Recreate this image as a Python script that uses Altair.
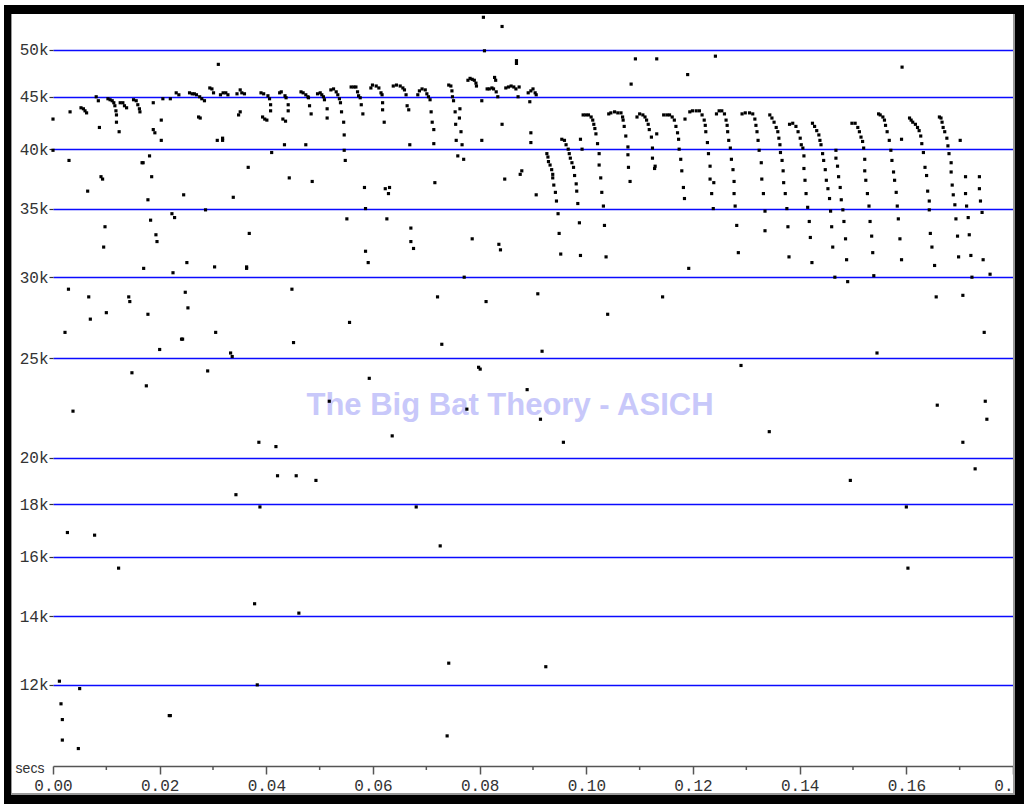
import altair as alt
import pandas as pd

# ---------------- data: (time in ms, frequency in kHz) ----------------
early_pulses = [
    (0, 42.8), (3.2, 43.5),
    (5.25, 43.9), (5.7, 43.8), (6.0, 43.6), (6.3, 43.4),
    (8.1, 45.0), (8.5, 44.6),
    (10.3, 44.8), (10.7, 44.7), (11.1, 44.6), (11.4, 44.4), (11.6, 44.1), (11.8, 43.6), (11.9, 43.2), (11.9, 42.5),
    (12.6, 44.4), (13.1, 44.4), (13.4, 44.1), (13.8, 43.9),
    (15.1, 44.7), (15.6, 44.6), (15.9, 44.2), (16.2, 43.8), (16.3, 43.5),
    (18.8, 44.4), (20.6, 44.8), (22.0, 44.8), (23.1, 45.4), (23.6, 45.2),
    (25.6, 45.4), (26.1, 45.3), (26.5, 45.3), (26.9, 45.2), (27.5, 45.0), (27.9, 44.8), (28.4, 44.6),
    (29.4, 45.9), (29.8, 45.8), (30.1, 45.4),
    (31.4, 45.2), (31.9, 45.4), (32.4, 45.4), (32.8, 45.2),
    (34.5, 45.3), (35.1, 45.7), (35.4, 45.4), (35.9, 45.3),
    (39.0, 45.4), (39.5, 45.3), (40.3, 45.1), (40.6, 44.8), (40.8, 44.2), (40.8, 43.6),
    (42.5, 45.4), (42.8, 45.5), (43.5, 45.1), (43.7, 44.9), (44.1, 44.2), (44.1, 43.6),
    (46.5, 45.5), (46.9, 45.4), (47.4, 45.2), (47.8, 45.0), (47.9, 44.9), (48.1, 44.1), (48.4, 43.3),
    (49.6, 45.3), (50.1, 45.4), (50.4, 45.2), (50.7, 45.0), (50.9, 44.7), (51.4, 43.8), (51.4, 42.9),
    (52.1, 45.7), (52.6, 45.8), (53.1, 45.5), (53.4, 45.2), (53.7, 44.8), (53.9, 44.4), (54.1, 43.5),
    (54.5, 42.5), (54.6, 41.3), (54.6, 39.9), (54.8, 39.0),
    (55.9, 46.0), (56.4, 46.0), (56.8, 46.0), (57.1, 45.5), (57.3, 45.1), (57.6, 44.9), (57.8, 44.2), (58.1, 43.3),
    (59.6, 45.9),
]

early_scatter = [
    (27.3, 43.0), (27.6, 42.9), (30.8, 40.8), (31.8, 41.0), (31.8, 40.8), (34.8, 43.2), (35.1, 43.5),
    (39.3, 43.0), (39.7, 42.8), (40.1, 42.7), (41.0, 39.7), (43.1, 42.8), (43.6, 42.6),
    (43.4, 40.4), (44.3, 37.5), (47.4, 40.4), (48.6, 37.2), (8.7, 42.0), (12.4, 41.6),
    (20.3, 42.7), (18.8, 41.8), (19.1, 41.5), (20.3, 40.8), (31.0, 48.4),
    (0, 39.9), (3.0, 39.0), (6.5, 36.4), (9.0, 37.6), (9.3, 37.4), (9.75, 33.6), (9.5, 32.1),
    (16.7, 38.8), (16.9, 38.8), (18.1, 39.4), (18.5, 37.6), (17.8, 35.7), (18.3, 34.1), (19.3, 33.0),
    (19.5, 32.5), (17.0, 30.6), (22.3, 34.6), (22.8, 34.3), (22.5, 30.3), (24.5, 36.1), (25.1, 31.0),
    (28.6, 34.9), (30.3, 30.7), (33.8, 35.9), (36.6, 38.4), (36.8, 33.1), (36.3, 30.7), (36.3, 30.6),
    (44.8, 29.2), (2.9, 29.2), (58.4, 36.7), (58.6, 35.0), (55.1, 34.2), (58.6, 31.8), (59.1, 31.0),
]

mid_pulses = [
    (59.9, 46.2), (60.6, 46.1), (61.1, 45.9), (61.5, 45.4), (61.7, 45.2), (61.8, 44.4), (61.8, 43.7), (62.1, 42.5),
    (63.8, 46.1), (64.4, 46.2), (65.1, 46.1), (65.6, 45.9), (65.9, 45.7), (66.2, 45.2), (66.4, 44.1), (66.7, 43.7), (66.9, 40.4),
    (68.4, 45.2), (68.7, 45.6), (69.2, 45.8), (69.8, 45.7), (70.1, 45.3), (70.4, 45.0), (70.7, 44.7),
    (70.9, 43.5), (71.1, 42.5), (71.4, 41.8), (71.4, 40.5), (71.6, 37.1),
    (74.2, 46.2), (74.6, 46.1), (74.8, 45.6), (74.9, 45.0), (75.1, 44.6), (75.4, 43.5), (75.5, 42.3), (75.6, 40.8),
    (76.3, 43.8), (76.2, 42.9), (76.5, 41.6), (76.7, 40.4), (75.9, 39.4), (77.0, 39.1),
    (77.8, 46.7), (78.2, 46.9), (78.6, 46.8), (79.0, 46.7), (79.3, 46.4), (79.4, 46.1),
    (80.4, 44.6), (80.4, 40.8),
    (82.8, 47.0), (83.0, 46.7), (81.4, 45.8), (81.8, 45.8), (82.3, 45.9), (82.6, 45.8), (83.1, 45.5), (83.4, 45.0),
    (84.2, 42.3),
    (84.9, 45.9), (85.4, 46.0), (85.9, 46.1), (86.4, 46.0), (86.8, 45.8), (87.4, 46.0), (87.2, 45.0),
    (89.1, 45.4), (89.6, 45.6), (90.0, 45.8), (90.4, 45.4), (90.6, 45.2), (89.4, 44.5), (89.6, 41.5), (89.6, 40.6), (90.6, 36.1),
]

mid_scatter = [
    (80.7, 53.8), (84.2, 52.7), (80.9, 49.9), (86.9, 48.8), (86.9, 48.5),
    (84.7, 37.4), (87.6, 37.8), (87.9, 38.1),
    (62.3, 36.6), (63.1, 36.7), (62.9, 36.2), (62.6, 34.2),
    (67.1, 33.5), (67.1, 32.5), (67.6, 32.0), (78.6, 32.7), (83.6, 32.3), (83.9, 31.9), (77.1, 30.0),
]

late_t = [
    92.6, 92.8, 92.9, 93.2, 93.5, 93.7, 93.7, 93.9, 94.2, 94.4, 94.7, 94.9, 95.2,
    95.4, 95.9, 96.2, 96.6, 96.8, 97.0, 97.3, 97.6, 97.8, 98.1, 98.2, 98.4, 98.7, 98.9, 98.9, 99.2,
    99.4, 99.9, 100.4, 100.9, 101.2, 101.4, 101.6, 101.8, 102.1, 102.4, 102.4, 102.7, 102.9, 103.2, 103.4, 103.7,
    104.2, 104.6, 105.3, 105.9, 106.5, 106.8, 106.9, 107.1, 107.4, 107.8, 107.8, 107.9, 108.2,
    109.5, 110.0, 110.6, 111.0, 111.3, 111.6, 111.8, 112.2, 112.4, 112.4, 112.8, 112.9, 113.2,
    114.5, 115.1, 115.6, 116.1, 116.5, 116.8, 117.1, 117.3, 117.4, 117.7, 117.9, 118.2, 118.4, 118.5, 119.4,
    119.9, 120.6, 121.2, 121.7, 122.1, 122.3, 122.4, 122.7, 122.9, 123.2, 123.2, 123.9, 123.5, 123.8,
    124.4, 124.9, 125.4, 125.9, 126.2, 126.4, 126.5, 126.7, 127.0, 127.2, 127.5, 127.7, 127.7, 127.9, 128.2, 128.5,
    129.2, 129.8, 130.6, 131.2, 131.6, 131.8, 132.0, 132.2, 132.4, 132.8, 132.9, 133.2, 133.5, 133.5,
    134.4, 134.8, 135.2, 135.6, 135.9, 136.1, 136.3, 136.4, 136.7, 136.9, 137.0, 137.3, 137.6, 137.8, 138.0,
    138.1, 138.7, 139.3, 139.7, 140.1, 140.3, 140.6, 140.8, 140.8, 141.0, 141.2, 141.5, 141.8, 142.0, 142.3,
    142.4, 142.8, 143.2, 143.6, 143.8, 144.0, 144.3, 144.5, 144.8, 145.0, 145.3, 145.6, 145.8, 146.0, 146.2, 146.6,
    146.8, 146.8, 147.1, 147.3, 147.6, 147.8, 148.1, 148.3, 148.6, 148.8, 149.0,
    149.8, 150.4, 150.9, 151.2, 151.5, 151.8, 152.0, 152.2, 152.2, 152.4, 152.7, 153.0, 153.2, 153.5, 153.7, 153.9,
    154.8, 155.1, 155.6, 155.9, 156.1, 156.4, 156.8, 157.1, 157.3, 157.6, 157.8, 158.1, 158.3, 158.5, 158.8, 159.1, 159.1,
    160.6, 160.9, 161.2, 161.7, 162.1, 162.4, 162.7, 162.9, 163.2, 163.5, 163.8, 164.0, 164.3, 164.3, 164.5, 164.8, 165.3,
    166.2, 166.5, 166.7, 166.9, 167.2, 167.6, 167.8, 168.0, 168.4, 168.4, 168.6, 168.8, 169.1, 169.3, 169.6, 169.8, 170.1,
    171.1, 171.1, 171.3, 171.6, 171.8, 172.1, 172.3,
    173.7, 173.7, 173.9, 174.2, 174.4, 175.7,
]
late_f = [
    39.6, 39.3, 38.9, 38.6, 38.2, 37.8, 37.5, 36.9, 36.3, 35.6, 34.6, 33.1, 31.6,
    40.9, 40.8, 40.4, 40.0, 39.6, 39.2, 38.8, 38.4, 37.7, 37.0, 36.4, 35.4, 33.9, 31.5, 40.9, 40.0,
    43.2, 43.2, 43.2, 43.0, 42.7, 42.3, 41.9, 41.4, 40.5, 39.6, 38.6, 37.5, 36.3, 35.2, 33.7, 31.4,
    43.3, 43.4, 43.5, 43.4, 43.4, 43.0, 42.7, 42.1, 41.2, 40.2, 39.5, 38.4, 37.2,
    43.0, 43.3, 43.2, 43.0, 42.7, 42.3, 41.8, 41.1, 40.1, 39.2, 38.3, 38.5, 41.4,
    43.2, 43.2, 43.2, 43.0, 42.7, 42.1, 41.5, 40.9, 40.0, 39.1, 38.1, 36.7, 35.8, 42.8, 43.5,
    43.6, 43.6, 43.6, 43.2, 42.7, 42.2, 41.6, 40.6, 39.6, 38.5, 37.4, 37.1, 36.2, 35.0,
    43.3, 43.6, 43.6, 43.3, 42.7, 42.2, 41.6, 40.8, 40.1, 39.1, 38.2, 37.2, 36.2, 35.2, 33.7, 31.7,
    43.3, 43.4, 43.4, 43.3, 42.8, 42.2, 41.6, 40.8, 39.9, 38.8, 37.4, 36.2, 34.8, 33.3,
    43.2, 42.9, 42.5, 42.0, 41.6, 41.0, 40.4, 39.7, 39.0, 38.1, 37.1, 36.2, 35.0, 33.6, 31.4,
    42.3, 42.4, 42.1, 41.6, 41.0, 40.4, 40.1, 39.4, 38.3, 37.3, 36.2, 35.1, 34.0, 32.8, 31.0,
    42.4, 42.1, 41.7, 41.3, 40.8, 40.4, 39.6, 39.0, 38.2, 37.3, 36.6, 35.8, 34.8, 33.6, 32.1, 30.0,
    39.9, 39.2, 38.5, 37.6, 36.7, 35.7, 34.9, 34.0, 32.7, 31.2, 29.7,
    42.4, 42.4, 42.0, 41.6, 41.1, 40.7, 40.1, 39.1, 38.1, 37.3, 36.2, 35.2, 34.0, 32.9, 31.7, 30.1,
    43.3, 43.2, 43.0, 42.7, 42.2, 41.6, 40.8, 39.9, 39.0, 38.0, 37.3, 36.3, 35.2, 34.2, 32.7, 31.2, 40.9,
    42.9, 42.7, 42.5, 42.3, 42.0, 41.7, 41.2, 40.5, 39.7, 38.4, 37.7, 36.4, 35.6, 34.9, 33.1, 32.1, 30.8,
    43.0, 42.9, 42.5, 42.0, 41.6, 41.0, 40.3, 39.6, 38.8, 38.0, 36.9, 36.1, 35.3, 34.2, 32.9, 31.4, 40.8,
    37.6, 36.2, 35.2, 34.3, 33.0, 31.5, 30.0,
    37.6, 36.6, 35.6, 34.7, 31.2, 30.2,
]

late_scatter = [
    (119.0, 47.3), (109.2, 49.0), (113.2, 49.0), (108.4, 46.3), (119.2, 30.6), (124.2, 49.3), (159.2, 48.1),
]

low_scatter = [
    (6.7, 28.7), (14.2, 28.7), (14.4, 28.4), (24.8, 29.0), (7.0, 27.3), (10.0, 27.7), (17.8, 27.6), (25.3, 28.0),
    (2.25, 26.5), (24.1, 26.1), (24.3, 26.1), (30.5, 26.5), (20.0, 25.5), (33.3, 25.3), (33.6, 25.1), (45.1, 25.9),
    (55.6, 27.1), (14.8, 24.2), (29.0, 24.3), (17.5, 23.5), (59.3, 23.9), (3.75, 22.2), (51.8, 22.7),
    (38.6, 20.7), (41.8, 20.5), (42.1, 19.2), (45.6, 19.2), (49.3, 19.0), (34.3, 18.4), (38.8, 17.9),
    (2.7, 16.9), (7.8, 16.8), (12.3, 15.6), (37.8, 14.4), (46.1, 14.1), (1.2, 12.1), (5.0, 11.9), (38.3, 12.0),
    (1.5, 11.5), (21.8, 11.2), (22.0, 11.2), (1.75, 11.1), (1.75, 10.6), (4.75, 10.4),
    (72.1, 28.7), (81.2, 28.4), (90.9, 28.9), (114.3, 28.7), (104.0, 27.6), (72.9, 25.8), (91.7, 25.4),
    (79.8, 24.5), (80.1, 24.4), (88.9, 23.3), (77.6, 22.3), (91.4, 21.8), (63.6, 21.0), (95.7, 20.7),
    (68.1, 17.9), (72.6, 16.4), (74.2, 12.6), (92.4, 12.5), (73.9, 10.7),
    (165.6, 28.7), (170.6, 28.8), (174.6, 26.5), (154.5, 25.3), (129.0, 24.6), (174.8, 22.7), (175.1, 21.8),
    (165.8, 22.5), (134.3, 21.2), (170.6, 20.7), (172.9, 19.5), (149.5, 19.0), (160.0, 17.9), (160.3, 15.6),
]

x_major_ticks = [0.00, 0.02, 0.04, 0.06, 0.08, 0.10, 0.12, 0.14, 0.16, 0.18]
x_minor_ticks = [0.01, 0.03, 0.05, 0.07, 0.09, 0.11, 0.13, 0.15, 0.17]
y_grid_khz = [12, 14, 16, 18, 20, 25, 30, 35, 40, 45, 50]
watermark_text = "The Big Bat Theory - ASICH"
x_unit_label = "secs"

# ---------------- build table ----------------
pairs = early_pulses + early_scatter + mid_pulses + mid_scatter + list(zip(late_t, late_f)) + late_scatter + low_scatter
df = pd.DataFrame(pairs, columns=["ms", "khz"])
df["secs"] = df["ms"] / 1000.0

W, H = 960, 752
MONO = "Liberation Mono"

xscale = alt.Scale(domain=[0, 0.18], nice=False, zero=False)
yscale = alt.Scale(type="log", domain=[10, 54.2], nice=False, zero=False)

x_axis = alt.Axis(
    values=x_major_ticks, format=".2f", title=None, grid=False,
    labelFont=MONO, labelFontSize=16, labelColor="#333333", labelFlush=False,
    labelPadding=3, tickSize=8, tickColor="#555555", tickWidth=1.5,
    domainColor="#555555", domainWidth=1.5, labelOverlap=False, zindex=0,
)
y_axis = alt.Axis(
    values=y_grid_khz, labelExpr="datum.value + 'k'", title=None,
    grid=True, gridColor="#0a0aff", gridWidth=1.6, gridOpacity=1,
    domain=False, tickSize=4, tickColor="#333333", tickWidth=1.2,
    labelFont=MONO, labelFontSize=16, labelColor="#333333", labelPadding=1,
    labelOverlap=False, zindex=0,
)

one = pd.DataFrame({"k": [0]})

watermark = alt.Chart(one).mark_text(
    text=watermark_text, font="Liberation Sans", fontWeight="bold", fontSize=31,
    color="#c8c8fa", align="center", baseline="alphabetic",
).encode(x=alt.value(457), y=alt.value(401))

dots = alt.Chart(df).mark_square(size=10, color="black", opacity=1).encode(
    x=alt.X("secs:Q", scale=xscale, axis=x_axis),
    y=alt.Y("khz:Q", scale=yscale, axis=y_axis),
)

minor = alt.Chart(pd.DataFrame({"t": x_minor_ticks})).mark_rule(
    color="#555555", strokeWidth=1.5
).encode(
    x=alt.X("t:Q", scale=xscale),
    y=alt.value(H),
    y2=alt.value(H + 4),
)

secs_label = alt.Chart(one).mark_text(
    text=x_unit_label, font="Liberation Sans", fontSize=14, color="#333333",
    align="center", baseline="middle",
).encode(x=alt.value(-23), y=alt.value(H + 3))


def band(x1, x2, y1, y2, color):
    return alt.Chart(one).mark_rect(color=color, opacity=1).encode(
        x=alt.value(x1), x2=alt.value(x2), y=alt.value(y1), y2=alt.value(y2)
    )


# frame (absolute pixels shifted by plot origin 53,14)
frame = [
    band(-42, -41, -1, 781, "#9a9a9a"),
    band(960, 962, -1, 781, "#9a9a9a"),
    band(-42, 962, 779, 781, "#9a9a9a"),
    band(-42, 962, -1, 0, "#9a9a9a"),
    band(-49, -42, -9, 790, "black"),
    band(-49, 971, -9, 0, "black"),
    band(962, 971, -9, 790, "black"),
    band(-49, 971, 781, 790, "black"),
]

chart = alt.layer(watermark, minor, dots, secs_label, *frame).properties(
    width=W, height=H,
    padding={"left": 53, "top": 14, "right": 11, "bottom": 38},
    autosize=alt.AutoSizeParams(type="none"),
    background="white",
).configure_view(stroke=None)

chart.save("out.html", embed_options={"renderer": "svg", "actions": False})
